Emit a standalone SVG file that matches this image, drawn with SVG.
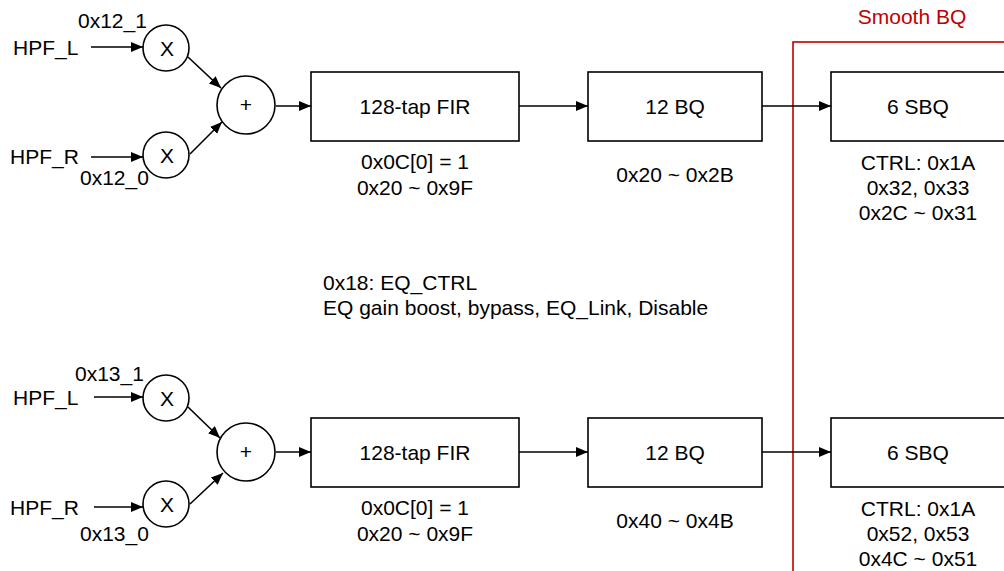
<svg xmlns="http://www.w3.org/2000/svg" width="1004" height="571" viewBox="0 0 1004 571">
<style>
text{font-family:"Liberation Sans",Arial,sans-serif;font-size:21px;fill:#000}
.c{text-anchor:middle}
.box{fill:#fff;stroke:#000;stroke-width:1.6}
.op{fill:#fff;stroke:#000;stroke-width:1.6}
.ln{stroke:#000;stroke-width:1.6;fill:none;marker-end:url(#ah)}
.red{fill:none;stroke:#c00000;stroke-width:1.6}
</style>
<defs>
<marker id="ah" viewBox="0 0 12 10" refX="12" refY="5" markerWidth="12" markerHeight="10" markerUnits="userSpaceOnUse" orient="auto">
<path d="M0,0 L12,5 L0,10 Z" fill="#000"/>
</marker>
</defs>
<rect width="1004" height="571" fill="#fff"/>
<g id="smooth-bq">
<rect class="red" x="793" y="42" width="230" height="560"/>
<text class="c" x="912" y="24" style="fill:#c00000">Smooth BQ</text>
</g>
<g id="connectors">
<line class="ln" x1="91" y1="47" x2="143" y2="47"/>
<line class="ln" x1="91" y1="157" x2="143" y2="157"/>
<line class="ln" x1="188" y1="57" x2="221" y2="88"/>
<line class="ln" x1="190" y1="154" x2="222" y2="122"/>
<line class="ln" x1="276" y1="106" x2="311" y2="106"/>
<line class="ln" x1="519" y1="106" x2="588" y2="106"/>
<line class="ln" x1="762" y1="106" x2="831" y2="106"/>
<line class="ln" x1="94" y1="397" x2="143" y2="397"/>
<line class="ln" x1="94" y1="507" x2="143" y2="507"/>
<line class="ln" x1="188" y1="407" x2="220" y2="438"/>
<line class="ln" x1="190" y1="504" x2="223" y2="473"/>
<line class="ln" x1="276" y1="452" x2="311" y2="452"/>
<line class="ln" x1="519" y1="452" x2="588" y2="452"/>
<line class="ln" x1="762" y1="452" x2="831" y2="452"/>
</g>
<g id="labels-top-in">
<text x="13" y="55">HPF_L</text>
<text x="78" y="28">0x12_1</text>
<text x="10" y="164">HPF_R</text>
<text x="80" y="185">0x12_0</text>
</g>
<g id="mul-top-1"><circle class="op" cx="166" cy="48" r="23"/><text class="c" x="167" y="56">X</text></g>
<g id="mul-top-2"><circle class="op" cx="166" cy="155" r="23"/><text class="c" x="167" y="163">X</text></g>
<g id="add-top"><circle class="op" cx="246" cy="105" r="29"/><text class="c" x="246" y="112">+</text></g>
<g id="fir-top"><rect class="box" x="311" y="72" width="208" height="69"/><text class="c" x="415" y="114">128-tap FIR</text>
<text class="c" x="415" y="169">0x0C[0] = 1</text><text class="c" x="415" y="195">0x20 ~ 0x9F</text></g>
<g id="bq-top"><rect class="box" x="588" y="72" width="174" height="69"/><text class="c" x="675" y="114">12 BQ</text>
<text class="c" x="675" y="182">0x20 ~ 0x2B</text></g>
<g id="sbq-top"><rect class="box" x="831" y="72" width="174" height="69"/><text class="c" x="918" y="114">6 SBQ</text>
<text class="c" x="918" y="170">CTRL: 0x1A</text><text class="c" x="918" y="195">0x32, 0x33</text><text class="c" x="918" y="220">0x2C ~ 0x31</text></g>
<g id="eq-ctrl">
<text x="323" y="290">0x18: EQ_CTRL</text>
<text x="323" y="315">EQ gain boost, bypass, EQ_Link, Disable</text>
</g>
<g id="labels-bot-in">
<text x="13" y="405">HPF_L</text>
<text x="75" y="381">0x13_1</text>
<text x="10" y="515">HPF_R</text>
<text x="80" y="541">0x13_0</text>
</g>
<g id="mul-bot-1"><circle class="op" cx="166" cy="398" r="23"/><text class="c" x="167" y="406">X</text></g>
<g id="mul-bot-2"><circle class="op" cx="166" cy="504" r="23"/><text class="c" x="167" y="512">X</text></g>
<g id="add-bot"><circle class="op" cx="246" cy="452" r="29"/><text class="c" x="246" y="459">+</text></g>
<g id="fir-bot"><rect class="box" x="311" y="418" width="208" height="69"/><text class="c" x="415" y="460">128-tap FIR</text>
<text class="c" x="415" y="515">0x0C[0] = 1</text><text class="c" x="415" y="541">0x20 ~ 0x9F</text></g>
<g id="bq-bot"><rect class="box" x="588" y="418" width="174" height="69"/><text class="c" x="675" y="460">12 BQ</text>
<text class="c" x="675" y="528">0x40 ~ 0x4B</text></g>
<g id="sbq-bot"><rect class="box" x="831" y="418" width="174" height="69"/><text class="c" x="918" y="460">6 SBQ</text>
<text class="c" x="918" y="516">CTRL: 0x1A</text><text class="c" x="918" y="541">0x52, 0x53</text><text class="c" x="918" y="566">0x4C ~ 0x51</text></g>
</svg>
